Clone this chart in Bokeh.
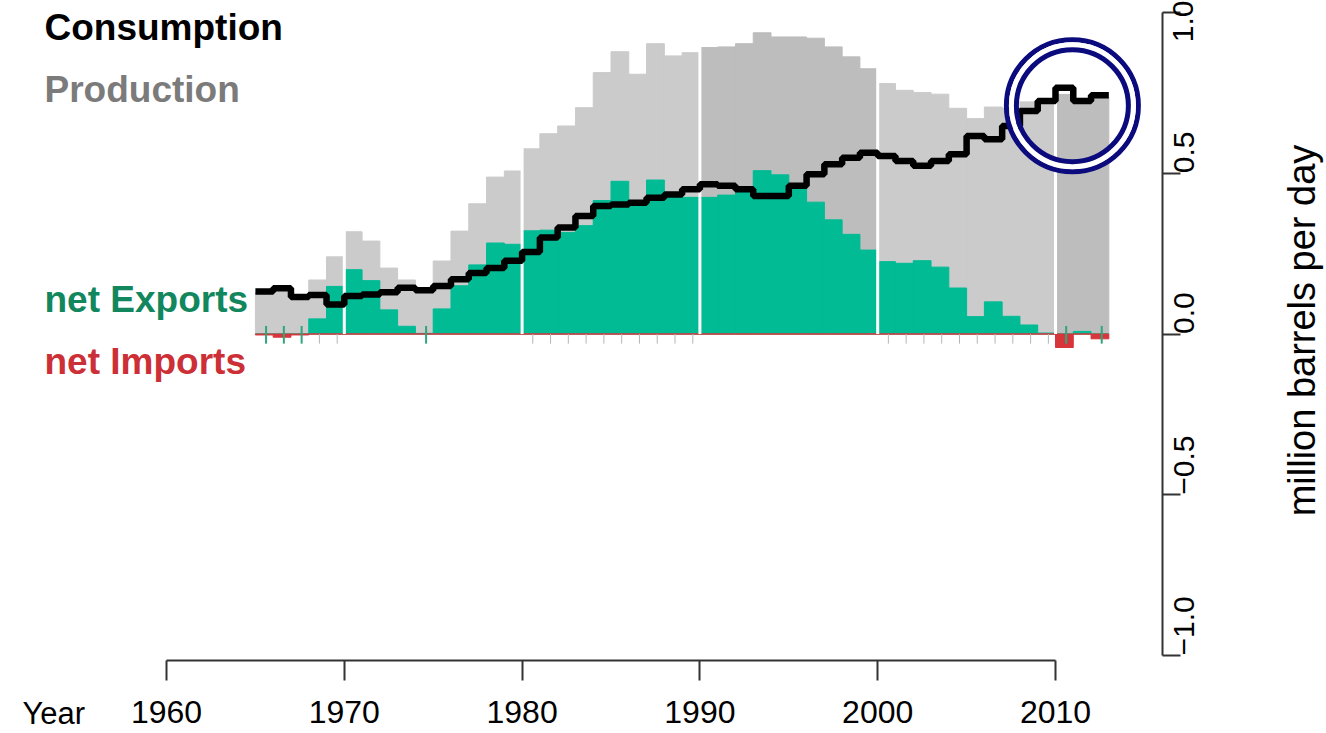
import math
from bokeh.plotting import figure
from bokeh.models import LinearAxis, FixedTicker, Range1d, Label
from bokeh.embed import file_html
from bokeh.resources import INLINE

# ---------------- data (million barrels per day) ----------------
years = list(range(1965, 2013))
production = [
    0.129, 0.132, 0.112, 0.168, 0.240, 0.318, 0.289, 0.205, 0.168, 0.138,  # 1965-1974
    0.227, 0.320, 0.405, 0.488, 0.507, 0.576, 0.623, 0.647, 0.704, 0.813,  # 1975-1984
    0.878, 0.808, 0.903, 0.865, 0.875, 0.891, 0.893, 0.903, 0.937, 0.924,  # 1985-1994
    0.924, 0.920, 0.893, 0.862, 0.825, 0.779, 0.758, 0.751, 0.746, 0.702,  # 1995-2004
    0.670, 0.706, 0.702, 0.722, 0.728, 0.745, 0.733, 0.735,                # 2005-2012
]
consumption = [
    0.132, 0.142, 0.115, 0.121, 0.092, 0.118, 0.123, 0.130, 0.144, 0.136,
    0.149, 0.170, 0.190, 0.205, 0.228, 0.255, 0.300, 0.331, 0.367, 0.398,
    0.403, 0.408, 0.424, 0.434, 0.450, 0.466, 0.461, 0.450, 0.429, 0.429,
    0.461, 0.497, 0.528, 0.548, 0.564, 0.554, 0.538, 0.523, 0.538, 0.559,
    0.616, 0.606, 0.647, 0.694, 0.725, 0.766, 0.725, 0.743,
]
net_exports = [
    -0.003, -0.010, -0.003, 0.047, 0.148, 0.200, 0.166, 0.075, 0.024, 0.002,
    0.078, 0.150, 0.215, 0.283, 0.279, 0.321, 0.323, 0.316, 0.337, 0.415,
    0.475, 0.400, 0.479, 0.431, 0.425, 0.425, 0.432, 0.453, 0.508, 0.495,
    0.463, 0.410, 0.355, 0.310, 0.261, 0.225, 0.220, 0.228, 0.208, 0.143,
    0.054, 0.100, 0.055, 0.028, 0.003, -0.042, 0.008, -0.015,
]
decade_lines = [1970, 1980, 1990, 2000, 2010]
dark_decades = [1990, 2010]
rug_gray_years = [1968, 1969] + list(range(1980, 1990)) + list(range(2000, 2010))
rug_green_years = [1965, 1966, 1967, 1974, 2010, 2012]
x_ticks = [1960, 1970, 1980, 1990, 2000, 2010]
y_ticks = [-1.0, -0.5, 0.0, 0.5, 1.0]
y_tick_labels = ["\u22121.0", "\u22120.5", "0.0", "0.5", "1.0"]
highlight_x, highlight_y = 2010.95, 0.71

# ---------------- geometry (page pixels; canvas starts at page 0,0) ----------------
W, H = 1326, 733
PX_YEAR = 17.78
PX_UNIT = 321.5
X1960_PX = 166.0
YONE_PX = 12.0
x0 = 1960 - X1960_PX / PX_YEAR
x1 = x0 + W / PX_YEAR
ytop = 1 + YONE_PX / PX_UNIT
ybot = ytop - H / PX_UNIT
XAXIS_AT = ytop - 660 / PX_UNIT
YAXIS_AT = x0 + 1162 / PX_YEAR

LIGHT = "#cbcbcb"
DARK = "#bdbdbd"
GREEN = "#00bb94"
RED = "#d8353b"
SANS = "'Liberation Sans', Arial, Helvetica, sans-serif"

p = figure(width=W, height=H, x_range=Range1d(x0, x1), y_range=Range1d(ybot, ytop),
           output_backend="svg", toolbar_location=None,
           x_axis_location=None, y_axis_location=None, min_border=0,
           outline_line_color=None, background_fill_color="white",
           border_fill_color="white")
p.xgrid.grid_line_color = None
p.ygrid.grid_line_color = None

# production bars
left = years
right = [y + 1 for y in years]
colors = [DARK if (y // 10) * 10 in dark_decades else LIGHT for y in years]
p.quad(left=left, right=right, bottom=0, top=production, fill_color=colors,
       line_color=colors, line_width=1)

# net exports / imports
p.quad(left=left, right=right, bottom=0, top=[max(v, 0) for v in net_exports],
       fill_color=GREEN, line_color=GREEN, line_width=1)
p.quad(left=left, right=right, top=0, bottom=[min(v, 0) for v in net_exports],
       fill_color=RED, line_color=RED, line_width=1)

# decade separators
p.segment(x0=decade_lines, x1=decade_lines, y0=[0] * len(decade_lines),
          y1=[1] * len(decade_lines), line_color="white", line_width=3)

# small rug ticks
p.segment(x0=[y + 0.6 for y in rug_gray_years], x1=[y + 0.6 for y in rug_gray_years],
          y0=0, y1=-0.03, line_color="#b5b5b5", line_width=1)
p.segment(x0=[y + 0.6 for y in rug_green_years], x1=[y + 0.6 for y in rug_green_years],
          y0=0.025, y1=-0.03, line_color="#2fa67a", line_width=2)

# consumption step line
sx = years + [years[-1] + 1]
sy = consumption + [consumption[-1]]
p.step(x=sx, y=sy, mode="after", line_color="black", line_width=6.5)

# highlight double circle
p.scatter(x=[highlight_x], y=[highlight_y], marker="circle", size=132,
          fill_color=None, line_color="#0b0b7d", line_width=5)
p.scatter(x=[highlight_x], y=[highlight_y], marker="circle", size=122,
          fill_color=None, line_color="white", line_width=5)
p.scatter(x=[highlight_x], y=[highlight_y], marker="circle", size=112,
          fill_color=None, line_color="#0b0b7d", line_width=5)

# axes
xaxis = LinearAxis(fixed_location=XAXIS_AT, bounds=(1960, 2010),
                   ticker=FixedTicker(ticks=x_ticks))
xaxis.axis_line_color = "#333333"
xaxis.axis_line_width = 2
xaxis.major_tick_line_color = "#333333"
xaxis.major_tick_line_width = 2
xaxis.major_tick_out = 20
xaxis.major_tick_in = 0
xaxis.minor_tick_out = 0
xaxis.minor_tick_in = 0
xaxis.major_label_text_font = SANS
xaxis.major_label_text_font_size = "32px"
xaxis.major_label_text_color = "black"
xaxis.major_label_standoff = 20
p.add_layout(xaxis, "below")

yaxis = LinearAxis(fixed_location=YAXIS_AT, bounds=(-1, 1),
                   ticker=FixedTicker(ticks=y_ticks))
yaxis.major_label_overrides = {t: s for t, s in zip(y_ticks, y_tick_labels)}
yaxis.axis_line_color = "#333333"
yaxis.axis_line_width = 2
yaxis.major_tick_line_color = "#333333"
yaxis.major_tick_line_width = 2
yaxis.major_tick_out = 18
yaxis.major_tick_in = 0
yaxis.minor_tick_out = 0
yaxis.minor_tick_in = 0
yaxis.major_label_text_font = SANS
yaxis.major_label_text_font_size = "30px"
yaxis.major_label_text_color = "black"
yaxis.major_label_orientation = math.pi / 2
yaxis.major_label_standoff = 3
p.add_layout(yaxis, "right")

# texts
def add_label(text, x, y, color, size, bold=False, angle=0.0, align="left",
              baseline="alphabetic"):
    p.add_layout(Label(x=x, y=y, x_units="screen", y_units="screen", text=text,
                       text_color=color, text_font=SANS, text_font_size=size,
                       text_font_style="bold" if bold else "normal", angle=angle,
                       text_align=align, text_baseline=baseline))

add_label("Consumption", 44, H - 27, "black", "37px", bold=True)
add_label("Production", 44, H - 89, "#7b7b7b", "37px", bold=True)
add_label("net Exports", 44, H - 299, "#12875d", "37px", bold=True)
add_label("net Imports", 44, H - 361, "#cc2f36", "37px", bold=True)
add_label("Year", 22, H - 713, "black", "31px", baseline="middle")
add_label("million barrels per day", 1301, H - 330, "black", "38px",
          angle=math.pi / 2, align="center", baseline="middle")

open("out.html", "w").write(file_html(p, INLINE))
